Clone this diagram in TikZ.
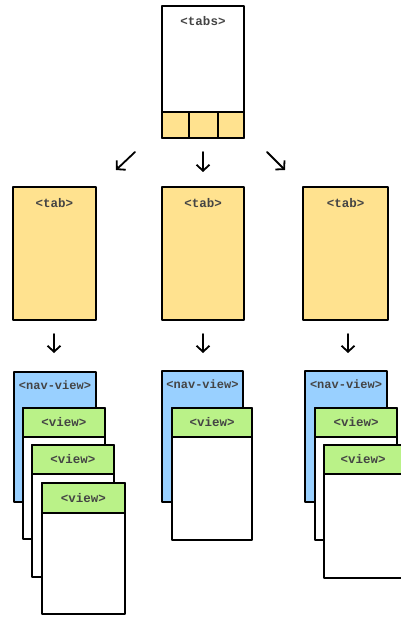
\documentclass[tikz,border=0pt]{standalone}
\usepackage{fontspec}
\setmonofont{Liberation Mono}
\usetikzlibrary{arrows.meta}
\definecolor{tabyellow}{RGB}{255,226,143}
\definecolor{navblue}{RGB}{153,208,255}
\definecolor{viewgreen}{RGB}{186,242,136}
\definecolor{labelgray}{RGB}{68,68,68}
\begin{document}
\begin{tikzpicture}[x=1pt,y=-1pt,
  box/.style={draw=black, line width=2.3pt, line join=round, anchor=north west, inner sep=0pt, outer sep=0pt},
  lbl/.style={font=\ttfamily\bfseries\fontsize{12.5}{13}\selectfont, text=labelgray, inner sep=0pt},
  navlbl/.style={font=\ttfamily\bfseries\fontsize{12}{13}\selectfont, text=labelgray, inner sep=0pt},
  head/.style={box, fill=viewgreen, font=\ttfamily\bfseries\fontsize{12.5}{13}\selectfont, text=labelgray},
  arr/.style={-{Straight Barb[length=6pt,width=13pt,line width=1.8pt]}, line width=1.8pt, line cap=round}]
\useasboundingbox (0,0) rectangle (400,617);
% top tabs
\node[box, fill=white, minimum width=82pt, minimum height=132pt] (tabs) at (162,6) {};
\node[box, anchor=south west, fill=tabyellow, minimum width=82pt, minimum height=26pt] (bar) at (tabs.south west) {};
\draw[line width=2.3pt] ([xshift=27pt]bar.north west) -- ([xshift=27pt]bar.south west);
\draw[line width=2.3pt] ([xshift=56pt]bar.north west) -- ([xshift=56pt]bar.south west);
\node[lbl] (tabstxt) at ([yshift=-15pt]tabs.north) {<tabs>};
% arrows from tabs
\coordinate (a1s) at (135,152); \coordinate (a1e) at (116,170);
\coordinate (a2s) at (203,152); \coordinate (a2e) at (203,172);
\coordinate (a3s) at (267,152); \coordinate (a3e) at (285,170);
\draw[arr] (a1s) -- (a1e);
\draw[arr] (a2s) -- (a2e);
\draw[arr] (a3s) -- (a3e);
% tab boxes
\node[box, fill=tabyellow, minimum width=83pt, minimum height=133pt] (tab1) at (13,187) {};
\node[box, fill=tabyellow, minimum width=82pt, minimum height=133pt] (tab2) at (162,187) {};
\node[box, fill=tabyellow, minimum width=85pt, minimum height=133pt] (tab3) at (303,187) {};
\node[lbl] (tab1txt) at ([yshift=-16pt]tab1.north) {<tab>};
\node[lbl] (tab2txt) at ([yshift=-16pt]tab2.north) {<tab>};
\node[lbl] (tab3txt) at ([yshift=-16pt]tab3.north) {<tab>};
% arrows below tabs
\coordinate (b1s) at (54,334); \coordinate (b1e) at (54,353);
\coordinate (b2s) at (203,334); \coordinate (b2e) at (203,353);
\coordinate (b3s) at (348,334); \coordinate (b3e) at (348,353);
\draw[arr] (b1s) -- (b1e);
\draw[arr] (b2s) -- (b2e);
\draw[arr] (b3s) -- (b3e);
% left stack
\node[box, fill=navblue, minimum width=82pt, minimum height=130pt] (nav1) at (14,372) {};
\node[navlbl] (nav1txt) at ([yshift=-13pt]nav1.north) {<nav-view>};
\node[box, fill=white, minimum width=82pt, minimum height=131pt] (v11) at (23,408) {};
\node[head, minimum width=82pt, minimum height=29pt] (v11h) at (v11.north west) {<view>};
\node[box, fill=white, minimum width=82pt, minimum height=132pt] (v12) at (32,445) {};
\node[head, minimum width=82pt, minimum height=29pt] (v12h) at (v12.north west) {<view>};
\node[box, fill=white, minimum width=83pt, minimum height=131pt] (v13) at (42,483) {};
\node[head, minimum width=83pt, minimum height=30pt] (v13h) at (v13.north west) {<view>};
% middle stack
\node[box, fill=navblue, minimum width=81pt, minimum height=131pt] (nav2) at (162,371) {};
\node[navlbl] (nav2txt) at ([yshift=-13pt]nav2.north) {<nav-view>};
\node[box, fill=white, minimum width=80pt, minimum height=132pt] (v21) at (172,408) {};
\node[head, minimum width=80pt, minimum height=29pt] (v21h) at (v21.north west) {<view>};
% right stack
\node[box, fill=navblue, minimum width=82pt, minimum height=131pt] (nav3) at (305,371) {};
\node[navlbl] (nav3txt) at ([yshift=-13pt]nav3.north) {<nav-view>};
\node[box, fill=white, minimum width=82pt, minimum height=132pt] (v31) at (315,408) {};
\node[head, minimum width=82pt, minimum height=29pt] (v31h) at (v31.north west) {<view>};
\node[box, fill=white, minimum width=86pt, minimum height=133pt] (v32) at (324,445) {};
\node[head, minimum width=86pt, minimum height=29pt] (v32h) at (v32.north west) {\hspace*{-8pt}<view>};
\end{tikzpicture}
\end{document}
